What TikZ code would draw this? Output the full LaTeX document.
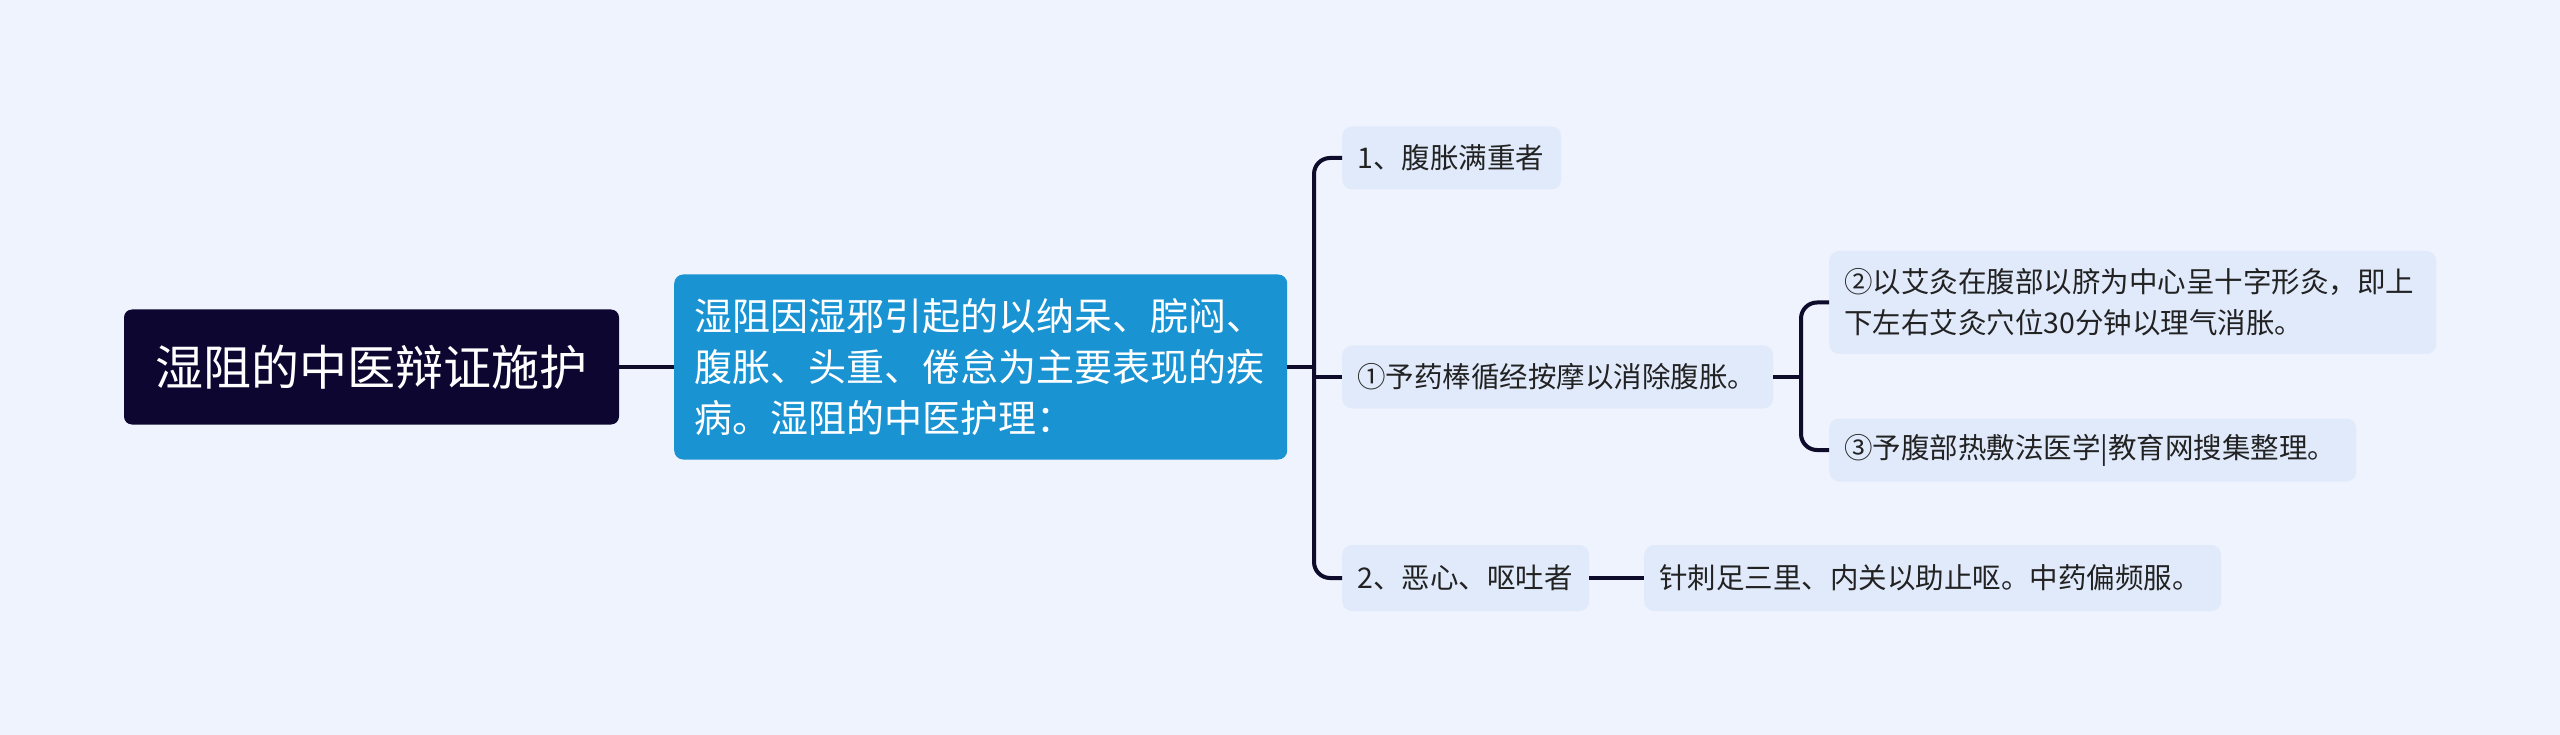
\documentclass[tikz,border=0pt]{standalone}
\usepackage{fontspec}
\setmainfont{Noto Sans CJK SC}
\definecolor{bgc}{HTML}{EEF3FE}
\definecolor{rootc}{HTML}{0C0630}
\definecolor{mainc}{HTML}{1A93D3}
\definecolor{lvc}{HTML}{E1EAFB}
\definecolor{linec}{HTML}{0E0B2B}
\definecolor{txtc}{HTML}{222222}
\tikzset{
  rootbox/.style={fill=rootc, text=white, rounded corners=8, minimum width=495, minimum height=115, inner sep=0, font=\fontsize{48}{58}\selectfont},
  mainbox/.style={fill=mainc, text=white, rounded corners=9, minimum width=613, minimum height=185, inner xsep=20, inner ysep=0, align=left, anchor=west, font=\fontsize{38}{51}\selectfont},
  lvbox/.style={fill=lvc, text=txtc, rounded corners=10, inner xsep=15, inner ysep=0, minimum height=63, align=left, anchor=west, font=\fontsize{28.5}{41}\selectfont},
  conn/.style={draw=linec, line width=4, rounded corners=16}
}
\begin{document}
\begin{tikzpicture}[x=1pt,y=-1pt]
\fill[bgc] (0,0) rectangle (2560,735);
\useasboundingbox (0,0) rectangle (2560,735);
\node[rootbox] (root) at (371.5,367) {湿阻的中医辩证施护};
\node[mainbox, text width=573] (main) at (674,367) {湿阻因湿邪引起的以纳呆、脘闷、\\腹胀、头重、倦怠为主要表现的疾\\病。湿阻的中医护理：};
\node[lvbox, text width=189] (c1) at (1342,158) {1、腹胀满重者};
\node[lvbox, text width=401] (c2) at (1342,377) {①予药棒循经按摩以消除腹胀。};
\node[lvbox, text width=217, minimum height=66] (c3) at (1342,578) {2、恶心、呕吐者};
\node[lvbox, text width=577, minimum height=103] (g1) at (1829,302.5) {②以艾灸在腹部以脐为中心呈十字形灸，即上\\下左右艾灸穴位30分钟以理气消胀。};
\node[lvbox, text width=497] (g2) at (1829,450) {③予腹部热敷法医学|教育网搜集整理。};
\node[lvbox, text width=547, minimum height=66] (h1) at (1644,578) {针刺足三里、内关以助止呕。中药偏频服。};
\coordinate (t1) at (1314,367);
\coordinate (t2) at (1801,377);
\draw[conn] (root.east) -- (main.west);
\draw[conn] (main.east) -- (t1);
\draw[conn] (c1.west) -| (t1);
\draw[conn] (c3.west) -| (t1);
\draw[conn] (c2.west) -- (1314,377);
\draw[conn] (c2.east) -- (t2);
\draw[conn] (g1.west) -| (t2);
\draw[conn] (g2.west) -| (t2);
\draw[conn] (c3.east) -- (h1.west);
\end{tikzpicture}
\end{document}
